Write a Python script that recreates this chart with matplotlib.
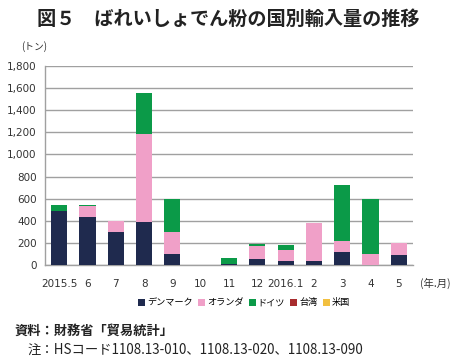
import numpy as np
import matplotlib
matplotlib.use("Agg")
import matplotlib.pyplot as plt
from matplotlib.patches import Patch

plt.rcParams["font.family"] = ["Noto Sans CJK JP", "DejaVu Sans"]

months = ["2015.5", "6", "7", "8", "9", "10", "11", "12", "2016.1", "2", "3", "4", "5"]
countries = ["デンマーク", "オランダ", "ドイツ", "台湾", "米国"]
colors = ["#1f2a4e", "#f0a0c8", "#0b9a48", "#a82c2e", "#f2c040"]

denmark = [490, 430, 295, 385, 95, 0, 10, 55, 35, 35, 115, 0, 90]
netherlands = [0, 105, 100, 800, 200, 0, 0, 120, 100, 345, 100, 95, 105]
germany = [50, 5, 0, 375, 305, 0, 50, 12, 50, 0, 505, 500, 0]
taiwan = [0, 0, 0, 0, 0, 0, 0, 0, 0, 0, 0, 5, 0]
usa = [0] * 13
series = [denmark, netherlands, germany, taiwan, usa]

fig = plt.figure(figsize=(4.56, 3.62), dpi=100)
ax = fig.add_axes([45 / 456, 97 / 362, 368 / 456, 199 / 362])

x = np.arange(len(months))
bottom = np.zeros(len(months))
for vals, c in zip(series, colors):
    ax.bar(x, vals, width=0.57, bottom=bottom, color=c, zorder=3)
    bottom += np.array(vals)

ax.set_xlim(-0.5, len(months) - 0.5)
ax.set_ylim(0, 1800)
ax.set_yticks(np.arange(0, 1801, 200))
ax.set_yticklabels([f"{v:,}" for v in range(0, 1801, 200)])
ax.set_xticks(x)
ax.set_xticklabels(months)
ax.yaxis.grid(True, color="#a0a0a0", linewidth=1.0, zorder=0)
for s in ["top", "right"]:
    ax.spines[s].set_visible(False)
for s in ["left", "bottom"]:
    ax.spines[s].set_color("#a0a0a0")
    ax.spines[s].set_linewidth(1.0)
ax.tick_params(axis="y", length=0, labelsize=7.5, colors="#333333", pad=6)
ax.tick_params(axis="x", length=0, labelsize=7.5, colors="#333333", pad=10)
for lab in ax.get_xticklabels() + ax.get_yticklabels():
    lab.set_family(["DejaVu Sans"])

fig.text(0.5, 1 - 19 / 362, "図５　ばれいしょでん粉の国別輸入量の推移", ha="center", va="center",
         fontsize=13.8, fontweight="bold", color="#222222")
fig.text(21 / 456, 1 - 47 / 362, "(トン)", ha="left", va="center", fontsize=7, color="#333333")
fig.text(435 / 456, 1 - 283 / 362, "(年.月)", ha="center", va="center", fontsize=7.5, color="#333333")

handles = [Patch(facecolor=c, edgecolor="none") for c in colors]
fig.legend(handles, countries, loc="center", bbox_to_anchor=(244 / 456, 1 - 303 / 362),
           ncol=5, frameon=False, fontsize=6.6, handlelength=0.75, handleheight=0.75,
           handletextpad=0.2, columnspacing=0.6)

fig.text(15 / 456, 1 - 331 / 362, "資料：財務省「貿易統計」", ha="left", va="center",
         fontsize=9.5, fontweight="bold", color="#222222")
fig.text(28 / 456, 1 - 350 / 362, "注：HSコード1108.13-010、1108.13-020、1108.13-090", ha="left",
         va="center", fontsize=9.6, color="#222222")

fig.savefig("out.png", dpi=100)
